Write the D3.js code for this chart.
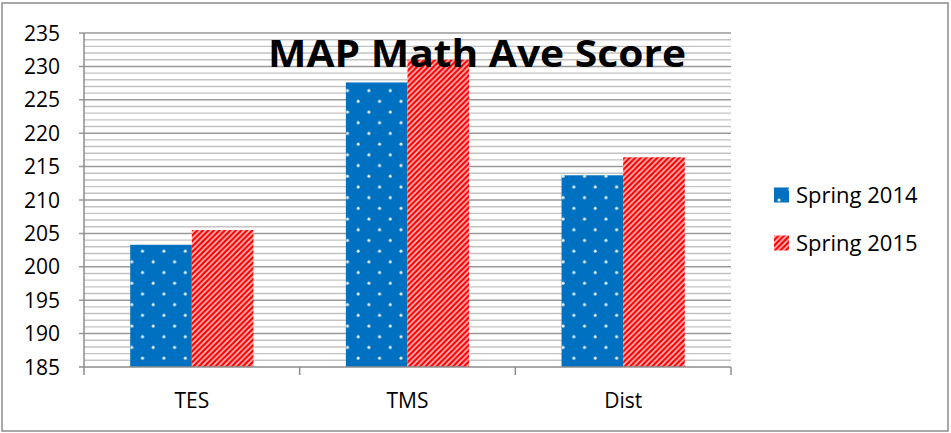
<!DOCTYPE html>
<html>
<head>
<meta charset="utf-8">
<script src="https://cdn.jsdelivr.net/npm/d3@7"></script>
<style>
  html, body { margin: 0; padding: 0; background: #fff; }
  svg { display: block; font-family: "Open Sans", "Liberation Sans", sans-serif; }
</style>
</head>
<body>
<svg id="chart" width="951" height="433"></svg>
<script>
const categories = ["TES", "TMS", "Dist"];
const seriesNames = ["Spring 2014", "Spring 2015"];
const spring2014 = [203.3, 227.6, 213.7];
const spring2015 = [205.5, 231.0, 216.4];
const yTicks = [185, 190, 195, 200, 205, 210, 215, 220, 225, 230, 235];

const svg = d3.select("#chart");
const plot = { left: 84, right: 731, top: 33, bottom: 367 };

const defs = svg.append("defs");

// blue with white dots
const dots = defs.append("pattern")
  .attr("id", "dots")
  .attr("patternUnits", "userSpaceOnUse")
  .attr("width", 21.4).attr("height", 21.4);
dots.append("rect").attr("width", 21.4).attr("height", 21.4).attr("fill", "#0070c0");
dots.append("circle").attr("cx", 5).attr("cy", 5).attr("r", 1.5).attr("fill", "#e3eef8");
dots.append("circle").attr("cx", 15.7).attr("cy", 15.7).attr("r", 1.5).attr("fill", "#e3eef8");

// red with white upward diagonals
const stripes = defs.append("pattern")
  .attr("id", "stripes")
  .attr("patternUnits", "userSpaceOnUse")
  .attr("width", 5.5).attr("height", 5.5);
stripes.append("rect").attr("width", 5.5).attr("height", 5.5).attr("fill", "#ff0000");
stripes.append("path")
  .attr("d", "M-1,1 L1,-1 M0,5.5 L5.5,0 M4.5,6.5 L6.5,4.5")
  .attr("stroke", "#ffc4c4")
  .attr("stroke-width", 1.6);

const fills = ["url(#dots)", "url(#stripes)"];

// outer border
svg.append("rect")
  .attr("x", 2).attr("y", 3).attr("width", 946).attr("height", 428)
  .attr("fill", "none").attr("stroke", "#8c8c8c").attr("stroke-width", 1.5);

const y = d3.scaleLinear().domain([185, 235]).range([plot.bottom, plot.top]);
const x0 = d3.scaleBand().domain(categories).range([plot.left, plot.right]).paddingInner(0);
const x1 = d3.scaleBand().domain(seriesNames).range([0, x0.bandwidth()]).paddingInner(0).paddingOuter(0.75);

// gridlines: minor each 1, major each 5
const minor = d3.range(186, 235).filter(v => v % 5 !== 0);
svg.append("g").selectAll("line").data(minor).join("line")
  .attr("x1", plot.left).attr("x2", plot.right)
  .attr("y1", d => y(d)).attr("y2", d => y(d))
  .attr("stroke", "#c3c3c3").attr("stroke-width", 1.4);
svg.append("g").selectAll("line").data(yTicks.slice(1)).join("line")
  .attr("x1", plot.left - 5).attr("x2", plot.right)
  .attr("y1", d => y(d)).attr("y2", d => y(d))
  .attr("stroke", "#999").attr("stroke-width", 1.5);

// bars
const rows = categories.map((c, i) => ({ cat: c, vals: [spring2014[i], spring2015[i]] }));
svg.append("g").selectAll("g").data(rows).join("g")
  .attr("transform", d => `translate(${x0(d.cat)},0)`)
  .selectAll("rect")
  .data(d => d.vals.map((v, j) => ({ name: seriesNames[j], v, j })))
  .join("rect")
  .attr("x", d => x1(d.name))
  .attr("width", x1.bandwidth())
  .attr("y", d => y(d.v))
  .attr("height", d => y(185) - y(d.v))
  .attr("fill", d => fills[d.j]);

// axes
const axisColor = "#8c8c8c";
svg.append("line")
  .attr("x1", plot.left).attr("x2", plot.left)
  .attr("y1", plot.top).attr("y2", plot.bottom + 8)
  .attr("stroke", axisColor).attr("stroke-width", 1.5);
svg.append("line")
  .attr("x1", plot.left - 5).attr("x2", plot.right)
  .attr("y1", plot.bottom).attr("y2", plot.bottom)
  .attr("stroke", axisColor).attr("stroke-width", 1.5);
const bounds = categories.map(c => x0(c)).concat([plot.right]);
svg.append("g").selectAll("line").data(bounds.slice(1)).join("line")
  .attr("x1", d => d).attr("x2", d => d)
  .attr("y1", plot.bottom).attr("y2", plot.bottom + 8)
  .attr("stroke", axisColor).attr("stroke-width", 1.5);

// y tick labels
svg.append("g").selectAll("text").data(yTicks).join("text")
  .attr("x", 60).attr("y", d => y(d))
  .attr("dy", "0.36em")
  .attr("text-anchor", "end")
  .attr("font-size", 21)
  .attr("fill", "#000")
  .text(d => d);

// category labels
svg.append("g").selectAll("text").data(categories).join("text")
  .attr("x", d => x0(d) + x0.bandwidth() / 2)
  .attr("y", 408)
  .attr("text-anchor", "middle")
  .attr("font-size", 21)
  .attr("fill", "#000")
  .text(d => d);

// title
svg.append("text")
  .attr("x", 477).attr("y", 67)
  .attr("text-anchor", "middle")
  .attr("font-size", 37)
  .attr("font-weight", "bold")
  .attr("textLength", 418)
  .attr("lengthAdjust", "spacingAndGlyphs")
  .attr("fill", "#000")
  .text("MAP Math Ave Score");

// legend
const legend = svg.append("g").selectAll("g").data(seriesNames).join("g")
  .attr("transform", (d, i) => `translate(774,${195 + i * 48})`);
legend.append("rect")
  .attr("x", 0).attr("y", -7.5).attr("width", 15).attr("height", 15)
  .attr("fill", (d, i) => fills[i]);
legend.append("text")
  .attr("x", 22).attr("y", 0).attr("dy", "0.36em")
  .attr("font-size", 22)
  .attr("fill", "#000")
  .text(d => d);
</script>
</body>
</html>
